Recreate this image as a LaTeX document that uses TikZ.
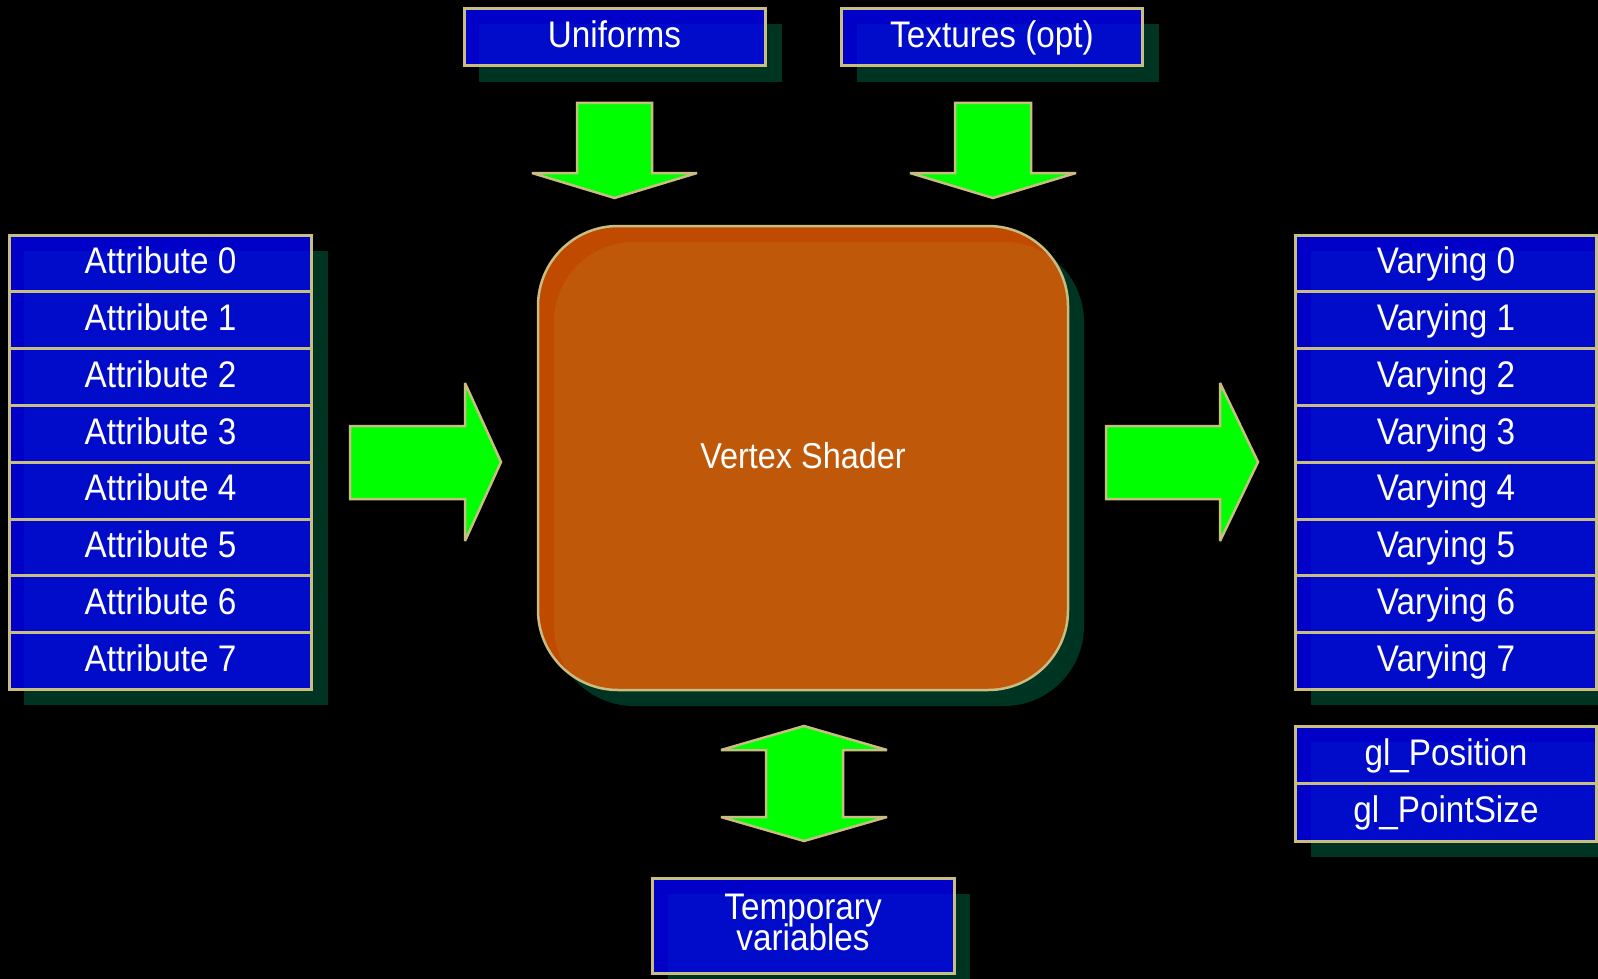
\documentclass[tikz,border=0pt]{standalone}
\usepackage{fontspec}
\setmainfont[FakeStretch=0.9]{Liberation Sans}

\definecolor{boxblue}{RGB}{0,0,200}
\definecolor{boxtint}{RGB}{0,12,202}
\definecolor{rim}{RGB}{200,190,130}
\definecolor{shade}{RGB}{0,52,34}
\definecolor{shaderdark}{RGB}{192,74,0}
\definecolor{shaderlight}{RGB}{192,88,10}
\definecolor{arrowgreen}{RGB}{0,255,0}

\tikzset{
  label font/.style={font=\fontsize{37}{30}\selectfont},
  slot/.style={fill=boxblue, draw=rim, line width=3pt, text=white, inner sep=0pt,
               minimum width=302, minimum height=56.8, label font},
  oneline/.style={text height=26pt, text depth=5.4pt},
  tint/.style={path picture={\fill[boxtint] (#1) rectangle (path picture bounding box.south east);}},
  blockarrow/.style={fill=arrowgreen, draw=rim, line width=2.5pt, line join=miter, miter limit=2.5},
  dropshadow/.style={fill=shade, draw=none},
}

\begin{document}
\begin{tikzpicture}[x=1pt, y=-1pt]
  % canvas
  \fill[black] (0,0) rectangle (1598,979);
  \useasboundingbox (0,0) rectangle (1598,979);

  % corners where the drop shadows begin
  \coordinate (uS)  at (479,24);
  \coordinate (tS)  at (857,24);
  \coordinate (aS)  at (24,251);
  \coordinate (vS)  at (1311,251);
  \coordinate (gS)  at (1311,742);
  \coordinate (tmS) at (668,894);
  \coordinate (vsA) at (554,242);
  \coordinate (vsB) at (1084,706);

  % drop shadows
  \fill[dropshadow] (uS) rectangle (782,82);
  \fill[dropshadow] (tS) rectangle (1159,82);
  \fill[dropshadow] (aS) rectangle (328,705);
  \fill[dropshadow] (vS) rectangle (1614,705);
  \fill[dropshadow] (gS) rectangle (1614,857);
  \fill[dropshadow] (tmS) rectangle (970,990);
  \fill[dropshadow, rounded corners=80] (vsA) rectangle (vsB);

  % inputs on top
  \node[slot, oneline, tint=uS, minimum width=301, minimum height=57] (uniforms) at (614.5,37) {Uniforms};
  \node[slot, oneline, tint=tS, minimum width=301, minimum height=57] (textures) at (992,37) {Textures (opt)};

  % attribute column
  \foreach \i in {0,...,7}
    \node[slot, oneline, tint=aS] (attr\i) at (160.5,{263.4+56.8*\i}) {Attribute \i};

  % varying column
  \foreach \i in {0,...,7}
    \node[slot, oneline, tint=vS, minimum width=301] (vary\i) at (1446,{263.4+56.8*\i}) {Varying \i};

  % built-in outputs
  \node[slot, oneline, tint=gS, minimum width=301, minimum height=57.5] (glpos) at (1446,755) {gl\_Position};
  \node[slot, oneline, tint=gS, minimum width=301, minimum height=57.5] (glsize) at (1446,812.5) {gl\_PointSize};

  % temporaries
  \node[slot, tint=tmS, minimum width=302, minimum height=95, align=center, text depth=6pt] (temps) at (803,925.5)
    {Temporary\\[-5pt]variables};

  % the shader itself
  \node[fill=shaderdark, draw=rim, line width=2.5pt, rounded corners=80, inner sep=0pt,
        minimum width=530, minimum height=464, text=white, font=\fontsize{36}{30}\selectfont, oneline,
        path picture={\fill[shaderlight, rounded corners=80] (vsA) rectangle (vsB);}]
    (shader) at (803,458) {Vertex Shader};

  % block arrows
  \draw[blockarrow] (577,103) -- (652,103) -- (652,173) -- (697,173) -- (614.5,198)
    -- (532,173) -- (577,173) -- cycle;
  \draw[blockarrow] (955,103) -- (1031,103) -- (1031,173) -- (1076,173) -- (993,198)
    -- (910,173) -- (955,173) -- cycle;
  \draw[blockarrow] (350,426) -- (465,426) -- (465,383) -- (501,462) -- (465,541)
    -- (465,499) -- (350,499) -- cycle;
  \draw[blockarrow] (1106,426) -- (1220,426) -- (1220,383) -- (1258,462) -- (1220,541)
    -- (1220,499) -- (1106,499) -- cycle;
  \draw[blockarrow] (804,726) -- (887,750) -- (843,750) -- (843,817) -- (887,817)
    -- (804,841) -- (721,817) -- (766,817) -- (766,750) -- (721,750) -- cycle;
\end{tikzpicture}
\end{document}
